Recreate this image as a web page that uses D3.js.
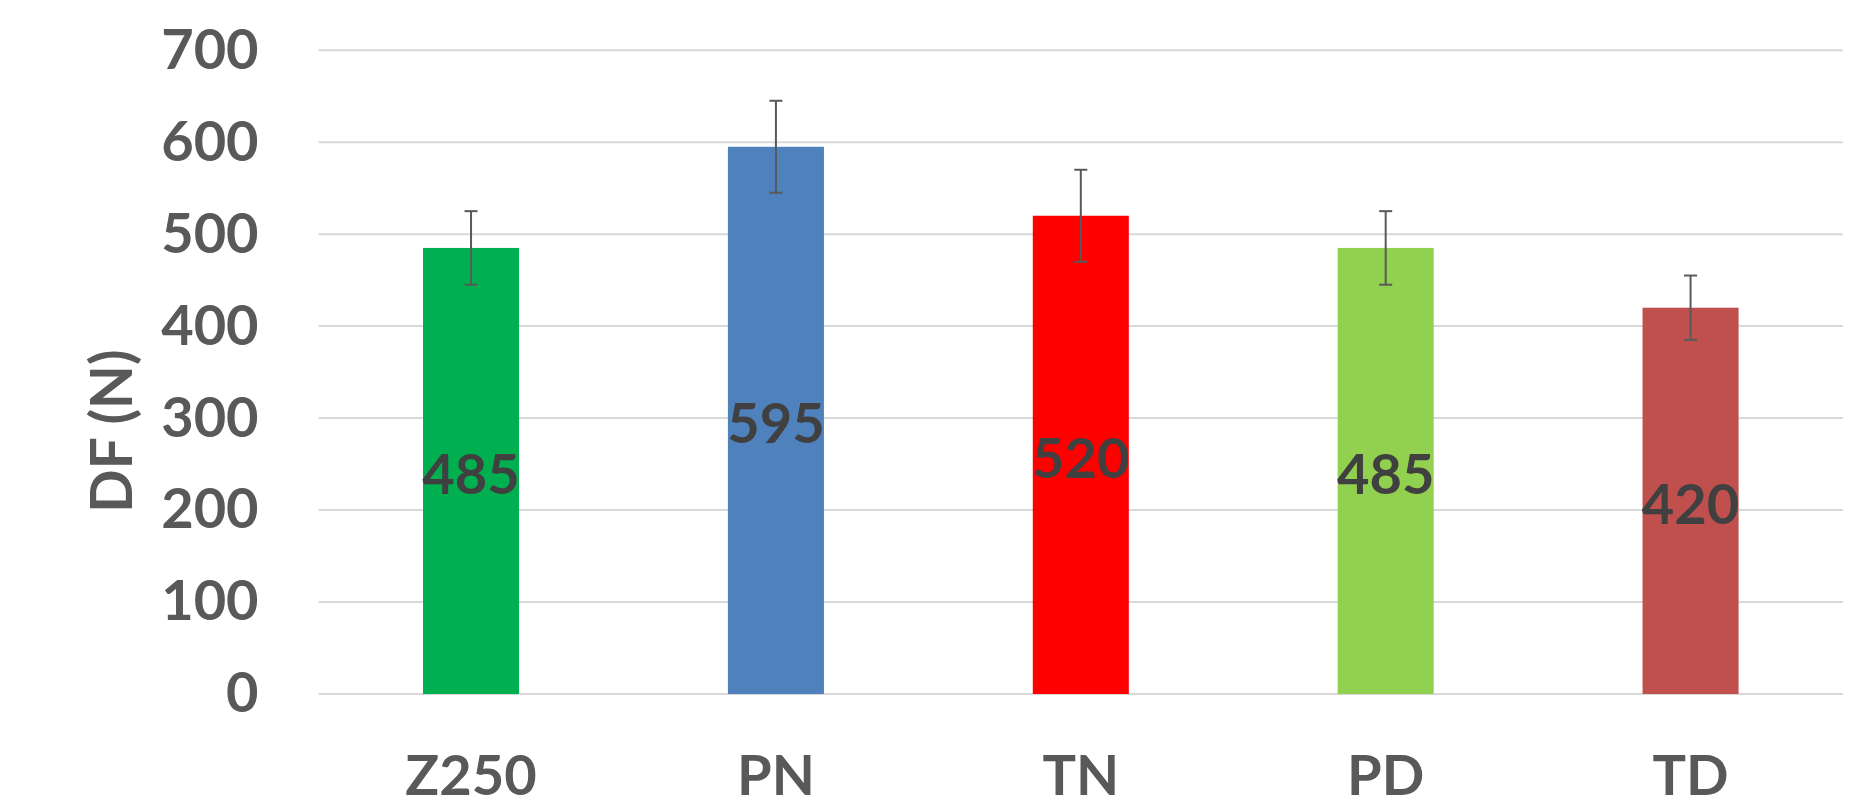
<!DOCTYPE html>
<html><head><meta charset="utf-8">
<script src="https://cdn.jsdelivr.net/npm/d3@7"></script>
<style>body{margin:0;background:#fff}</style>
</head><body><svg id="c" width="1850" height="806"></svg>
<script>
const categories = ["Z250","PN","TN","PD","TD"];
const values = [485,595,520,485,420];
const errors = [40,50,50,40,35];
const colors = ["#00B050","#4F81BD","#FF0000","#92D050","#C0504D"];
const yTicks = [0,100,200,300,400,500,600,700];
const yTitle = "DF (N)";

(function(){
const svg = d3.select("#c");
const pL = 318.6, pR = 1843, pT = 50.2, pB = 694;
const x = d3.scaleBand().domain(categories).range([pL,pR]).paddingInner(0.685).paddingOuter(0.3425);
const y = d3.scaleLinear().domain([0,700]).range([pB,pT]);
const font = "Lato, 'Open Sans', sans-serif";

svg.append("g").selectAll("line").data(yTicks).join("line")
  .attr("x1",pL).attr("x2",pR).attr("y1",d=>y(d)).attr("y2",d=>y(d))
  .attr("stroke","#d9d9d9").attr("stroke-width",2);

const yAxis = svg.append("g").attr("transform",`translate(${pL},0)`)
  .call(d3.axisLeft(y).tickValues(yTicks).tickSize(0).tickPadding(60));
yAxis.select(".domain").remove();
yAxis.selectAll("text").attr("fill","#595959").attr("font-family",font)
  .attr("font-weight","bold").attr("font-size",56);

const xAxis = svg.append("g").attr("transform",`translate(0,${pB})`)
  .call(d3.axisBottom(x).tickSize(0).tickPadding(61));
xAxis.select(".domain").remove();
xAxis.selectAll("text").attr("fill","#595959").attr("font-family",font)
  .attr("font-weight","bold").attr("font-size",56);

svg.append("g").selectAll("rect").data(categories).join("rect")
  .attr("x",d=>x(d)).attr("width",x.bandwidth())
  .attr("y",(d,i)=>y(values[i])).attr("height",(d,i)=>y(0)-y(values[i]))
  .attr("fill",(d,i)=>colors[i]);

const eb = svg.append("g").attr("stroke","#595959").attr("stroke-width",2);
categories.forEach((c,i)=>{
  const cx = x(c)+x.bandwidth()/2;
  const y1 = y(values[i]+errors[i]), y2 = y(values[i]-errors[i]);
  eb.append("line").attr("x1",cx).attr("x2",cx).attr("y1",y1).attr("y2",y2);
  eb.append("line").attr("x1",cx-6.5).attr("x2",cx+6.5).attr("y1",y1).attr("y2",y1);
  eb.append("line").attr("x1",cx-6.5).attr("x2",cx+6.5).attr("y1",y2).attr("y2",y2);
});

svg.append("g").selectAll("text").data(categories).join("text")
  .attr("x",d=>x(d)+x.bandwidth()/2).attr("y",(d,i)=>y(values[i]/2))
  .attr("dy","0.41em").attr("text-anchor","middle")
  .attr("fill","#404040").attr("font-family",font).attr("font-weight","bold")
  .attr("font-size",56).text((d,i)=>values[i]);

svg.append("text").attr("transform","translate(111,431) rotate(-90)")
  .attr("text-anchor","middle").attr("dy","0.36em")
  .attr("fill","#595959").attr("font-family",font).attr("font-weight","bold")
  .attr("font-size",57).text(yTitle);
})();
</script></body></html>
